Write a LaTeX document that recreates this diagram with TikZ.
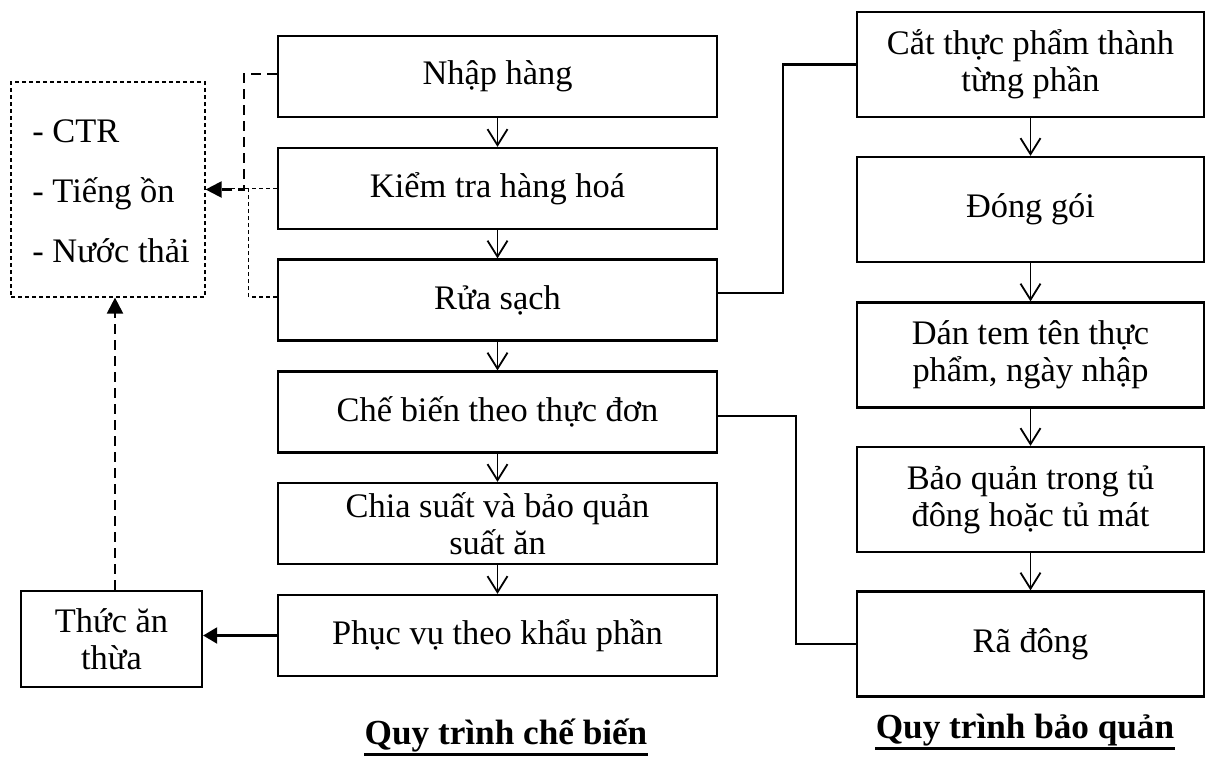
\documentclass[tikz,border=0pt]{standalone}
\usepackage{fontspec}
\setmainfont{Liberation Serif}
\usetikzlibrary{arrows.meta,calc}
\begin{document}
\begin{tikzpicture}[x=0.5pt,y=-0.5pt,
  box/.style={draw,line width=1.15pt,inner sep=0pt,align=center,font=\fontsize{17.2}{18.5}\selectfont},
  lbox/.style={box,minimum width=219.5pt,minimum height=40.5pt},
  rbox/.style={box,minimum width=173.5pt,minimum height=52.5pt},
  flow/.style={line width=0.9pt,-{Straight Barb[length=8pt,width=10pt]}},
  link/.style={line width=1.1pt},
  thickdash/.style={line width=1.1pt,dash pattern=on 5pt off 3pt},
  thindash/.style={line width=0.6pt,dash pattern=on 2pt off 1.5pt},
  txt/.style={font=\fontsize{17.2}{18.5}\selectfont,inner sep=0pt},
  captext/.style={font=\fontsize{17.6}{18.5}\selectfont\bfseries,inner sep=0pt,anchor=base}
]
\useasboundingbox (0,0) rectangle (1206,756);
% left column
\node[lbox] (nhap) at (497.5,76.5) {Nhập hàng};
\node[lbox] (kiem) at (497.5,188.5) {Kiểm tra hàng hoá};
\node[lbox] (rua) at (497.5,300) {Rửa sạch};
\node[lbox] (che) at (497.5,412) {Chế biến theo thực đơn};
\node[lbox] (chia) at (497.5,523.5) {Chia suất và bảo quản\\suất ăn};
\node[lbox] (phuc) at (497.5,635.5) {Phục vụ theo khẩu phần};
% right column
\node[rbox] (cat) at (1030.5,64.5) {Cắt thực phẩm thành\\từng phần};
\node[rbox] (dong) at (1030.5,209.5) {Đóng gói};
\node[rbox] (dan) at (1030.5,355) {Dán tem tên thực\\phẩm, ngày nhập};
\node[rbox] (bao) at (1030.5,499.5) {Bảo quản trong tủ\\đông hoặc tủ mát};
\node[rbox] (ra) at (1030.5,644) {Rã đông};
% waste box
\node[draw,thindash,minimum width=97pt,minimum height=107.5pt,inner sep=0pt] (dbox) at (108,189.5) {};
\node[txt,anchor=base west] (w1) at (32,142) {- CTR};
\node[txt,anchor=base west] (w2) at (32,202) {- Tiếng ồn};
\node[txt,anchor=base west] (w3) at (32,262) {- Nước thải};
\node[box,minimum width=90.5pt,minimum height=48pt] (thuc) at (111.5,639) {Thức ăn\\thừa};
% flow arrows
\foreach \a/\b in {nhap/kiem,kiem/rua,rua/che,che/chia,chia/phuc,cat/dong,dong/dan,dan/bao,bao/ra}
  \draw[flow] (\a) -- (\b);
% links to right column
\draw[link] ($(rua.east)+(0,-7)$) -- ++(65,0) |- (cat.west);
\draw[link] ($(che.east)+(0,4)$) -- ++(78,0) |- (ra.west);
% dashed emissions
\draw[thindash] (kiem.west) -- ++(-50,0);
\draw[thindash] ($(rua.west)+(0,-3)$) -- ++(-28,0) -- ++(0,-108);
\draw[thickdash,-{Triangle[length=8pt,width=8pt]}] ($(nhap.west)+(0,-2.5)$) -- ++(-33,0) |- (dbox.east);
\draw[thickdash,-{Triangle[length=8pt,width=8pt]}] ($(thuc.north)+(3.5,0)$) -- ($(thuc.north |- dbox.south)+(3.5,0)$);
\draw[link,-{Triangle[length=7pt,width=8pt]}] (phuc.west) -- (thuc.east |- phuc.west);
% captions
\node[captext] (cap1) at (506,744) {Quy trình chế biến};
\node[captext] (cap2) at (1025,738) {Quy trình bảo quản};
\draw[line width=1.5pt] ($(cap1.base west)+(0,10)$) -- ($(cap1.base east)+(0,10)$);
\draw[line width=1.5pt] ($(cap2.base west)+(0,10)$) -- ($(cap2.base east)+(0,10)$);
\end{tikzpicture}
\end{document}
